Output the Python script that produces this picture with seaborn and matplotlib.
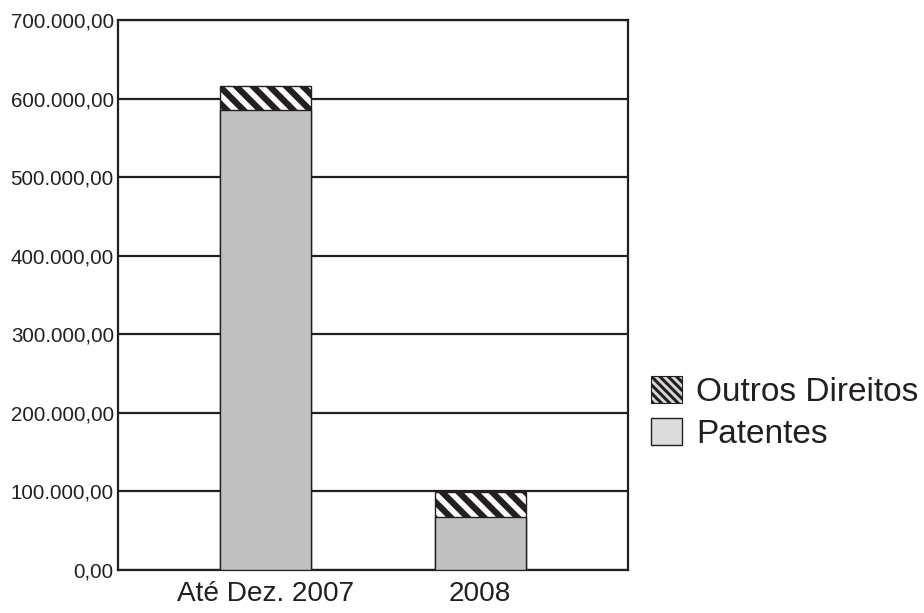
import matplotlib
matplotlib.use("Agg")
import matplotlib.pyplot as plt
from matplotlib.patches import Patch
from matplotlib.ticker import FuncFormatter
import seaborn as sns
import pandas as pd

categorias = ["Até Dez. 2007", "2008"]
patentes = [585000, 67500]
outros_direitos = [31000, 32000]
y_ticks = [0, 100000, 200000, 300000, 400000, 500000, 600000, 700000]

sns.set_theme(style="white")
plt.rcParams["font.family"] = ["Liberation Sans", "DejaVu Sans"]
plt.rcParams["hatch.linewidth"] = 4.5
plt.rcParams["hatch.color"] = "#111111"

totais = [p + o for p, o in zip(patentes, outros_direitos)]
df = pd.DataFrame({"categoria": categorias, "patentes": patentes, "total": totais})

fig = plt.figure(figsize=(9.24, 6.13), dpi=100)
ax = fig.add_axes([118 / 924, 1 - 570 / 613, (628 - 118) / 924, 550 / 613])

line_col = "#231f20"
for y in y_ticks:
    ax.axhline(y, color=line_col, lw=1.6, zorder=0)

# total (hatched top segment) drawn first, patentes covering the lower part
sns.barplot(data=df, x="categoria", y="total", ax=ax, color="white",
            width=0.425, edgecolor=line_col, linewidth=1.0, hatch="\\\\",
            saturation=1, zorder=2)
sns.barplot(data=df, x="categoria", y="patentes", ax=ax, color="#c0c0c0",
            width=0.425, edgecolor=line_col, linewidth=1.0,
            saturation=1, zorder=3)
for p in ax.patches:
    if p.get_hatch():
        p.set_edgecolor(line_col)

ax.set_xlim(-0.69, 1.69)
ax.set_ylim(0, 700000)
ax.set_yticks(y_ticks)
ax.yaxis.set_major_formatter(FuncFormatter(
    lambda v, _: f"{v:,.2f}".replace(",", "X").replace(".", ",").replace("X", ".")))
ax.set_xlabel("")
ax.set_ylabel("")
ax.tick_params(axis="y", labelsize=14.8, length=0, pad=3, labelcolor="#231f20")
ax.tick_params(axis="x", labelsize=20.2, length=0, pad=8, labelcolor="#231f20")

for side in ["left", "bottom", "right", "top"]:
    ax.spines[side].set_visible(True)
    ax.spines[side].set_color(line_col)
    ax.spines[side].set_linewidth(1.6)
ax.grid(False)

# finer, darker stripes for the legend swatch
plt.rcParams["hatch.linewidth"] = 2.2
handles = [
    Patch(facecolor="#d8d8d8", edgecolor=line_col, hatch="\\\\\\\\", linewidth=0.8, label="Outros Direitos"),
    Patch(facecolor="#dcdcdc", edgecolor=line_col, linewidth=1.0, label="Patentes"),
]
fig.legend(handles=handles, loc="center left", bbox_to_anchor=(651 / 924, 1 - 413 / 613),
           frameon=False, fontsize=24, handlelength=0.94, handleheight=0.85,
           handletextpad=0.42, labelspacing=0.3, labelcolor="#231f20",
           borderaxespad=0, borderpad=0)

fig.savefig("out.png", dpi=100)
